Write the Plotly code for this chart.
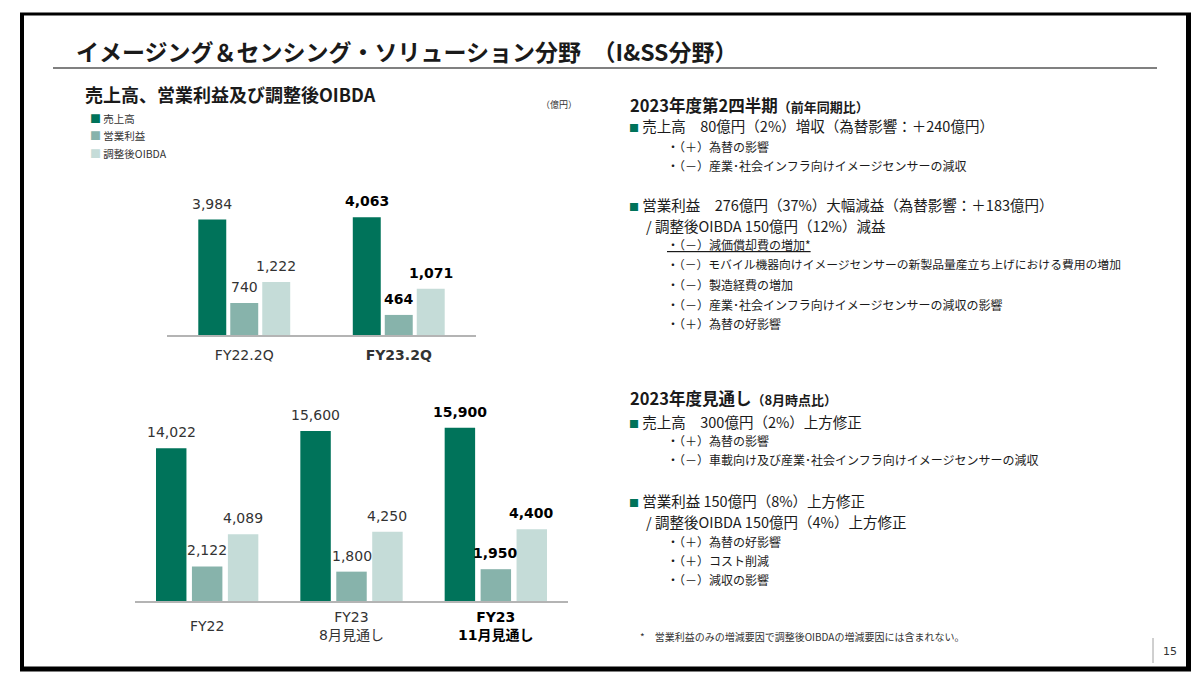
import plotly.graph_objects as go

# ---------------- data ----------------
series_names = ["売上高", "営業利益", "調整後OIBDA"]
series_colors = ["#00735A", "#87B3AB", "#C5DCD8"]

q_categories = ["FY22.2Q", "FY23.2Q"]
q_tick_labels = ["FY22.2Q", "<b>FY23.2Q</b>"]
q_bold = [False, True]
q_sales = [3984, 4063]
q_op_income = [740, 464]
q_oibda = [1222, 1071]

y_categories = ["FY22", "FY23 8月見通し", "FY23 11月見通し"]
y_tick_labels = ["FY22", "FY23<br>8月見通し", "<b>FY23<br>11月見通し</b>"]
y_bold = [False, False, True]
y_sales = [14022, 15600, 15900]
y_op_income = [2122, 1800, 1950]
y_oibda = [4089, 4250, 4400]

W, H = 1200, 675
def px(x):
    return x / W
def py(y):
    return 1 - y / H

LABEL_FONT = "DejaVu Sans, Noto Sans CJK JP, sans-serif"
JP_FONT = "Noto Sans CJK JP, sans-serif"
TXT = "#1A1A1A"

fig = go.Figure()
annotations = []

def add_chart(cats, series, bold, xa, ya_sales, ya_other, slot, bw):
    for k, (vals, name, col) in enumerate(zip(series, series_names, series_colors)):
        xs = [i + (k - 1) * slot for i in range(len(cats))]
        ya = ya_sales if k == 0 else ya_other
        fig.add_trace(go.Bar(
            x=xs, y=vals, width=bw, name=name, marker=dict(color=col, line=dict(width=0)),
            xaxis=xa, yaxis=ya, showlegend=False, hovertext=cats,
        ))
        for x, v, b in zip(xs, vals, bold):
            t = f"{v:,}"
            annotations.append(dict(
                x=x, y=v, xref=xa, yref=ya, text=f"<b>{t}</b>" if b else t,
                showarrow=False, yanchor="middle", xanchor="center", yshift=16,
                font=dict(family=LABEL_FONT, size=14, color="#000000" if b else "#333333"),
            ))

add_chart(q_categories, [q_sales, q_op_income, q_oibda], q_bold, "x", "y", "y2", 0.207, 0.181)
add_chart(y_categories, [y_sales, y_op_income, y_oibda], y_bold, "x3", "y3", "y4", 0.249, 0.211)

# bottom chart category labels (centered blocks)
for i, (lab, b) in enumerate(zip(y_tick_labels, y_bold)):
    annotations.append(dict(
        x=i, y=py(618), xref="x3", yref="paper", text=lab, showarrow=False,
        xanchor="center", yanchor="middle",
        font=dict(family=LABEL_FONT, size=14, color="#000000" if b else "#333333"),
    ))

# ---------------- texts ----------------
def txt(x, y, text, size, bold=False, color=TXT, family=JP_FONT):
    annotations.append(dict(
        x=px(x), y=py(y), xref="paper", yref="paper", text=f"<b>{text}</b>" if bold else text,
        showarrow=False, xanchor="left", yanchor="middle", align="left",
        font=dict(family=family, size=size, color=color),
    ))

txt(66, 43, "イメージング＆センシング・ソリューション分野　（I&SS分野）", 23, bold=True)
txt(75, 86, "売上高、営業利益及び調整後OIBDA", 18, color="#1A1A1A", bold=True)
txt(531, 96, "（億円）", 9, color="#333333")

legend_y = [110, 127, 145]
for name, col, yy in zip(series_names, series_colors, legend_y):
    txt(80, yy, f"<span style='color:{col};font-size:11px'>■</span> {name}", 10.5, color="#333333")

SQ = "<span style='color:#00735A;font-size:10px'>■</span> "
right_lines = [
    (620, 97, "2023年度第2四半期<span style='font-size:13px'>（前年同期比）</span>", 16.5, True),
    (619, 118, SQ + "売上高　80億円（2%）増収（為替影響：＋240億円）", 14.5, False),
    (657, 138, "・（＋）為替の影響", 12, False),
    (657, 157, "・（－）産業･社会インフラ向けイメージセンサーの減収", 12, False),
    (619, 196, SQ + "営業利益　276億円（37%）大幅減益（為替影響：＋183億円）", 14.5, False),
    (636, 217, "/ 調整後OIBDA 150億円（12%）減益", 14.5, False),
    (657, 236, "<u>・（－）減価償却費の増加*</u>", 12, False),
    (657, 256, "・（－）モバイル機器向けイメージセンサーの新製品量産立ち上げにおける費用の増加", 11.8, False),
    (657, 276, "・（－）製造経費の増加", 12, False),
    (657, 296, "・（－）産業･社会インフラ向けイメージセンサーの減収の影響", 12, False),
    (657, 315, "・（＋）為替の好影響", 12, False),
    (620, 390, "2023年度見通し<span style='font-size:13px'>（8月時点比）</span>", 16.5, True),
    (619, 413, SQ + "売上高　300億円（2%）上方修正", 14.5, False),
    (657, 432, "・（＋）為替の影響", 12, False),
    (657, 452, "・（－）車載向け及び産業･社会インフラ向けイメージセンサーの減収", 12, False),
    (619, 492, SQ + "営業利益 150億円（8%）上方修正", 14.5, False),
    (636, 513, "/ 調整後OIBDA 150億円（4%）上方修正", 14.5, False),
    (657, 533, "・（＋）為替の好影響", 12, False),
    (657, 552, "・（＋）コスト削減", 12, False),
    (657, 571, "・（－）減収の影響", 12, False),
]
for x, y, t, s, b in right_lines:
    txt(x, y, t, s, bold=b)

txt(630, 628, "*　営業利益のみの増減要因で調整後OIBDAの増減要因には含まれない。", 10, color="#333333")
txt(1153, 643, "15", 11, color="#333333", family=LABEL_FONT)

# ---------------- shapes ----------------
shapes = [
    dict(type="line", xref="paper", yref="paper", x0=px(45), x1=px(1149), y0=py(60), y1=py(60),
         line=dict(color="#808080", width=2)),
    dict(type="line", xref="paper", yref="paper", x0=px(1145), x1=px(1145), y0=py(630), y1=py(655),
         line=dict(color="#A0A0A0", width=1)),
    # frame
    dict(type="line", xref="paper", yref="paper", x0=px(12), x1=px(1183), y0=py(6), y1=py(6),
         line=dict(color="#000000", width=3)),
    dict(type="line", xref="paper", yref="paper", x0=px(14), x1=px(14), y0=py(5), y1=py(663),
         line=dict(color="#000000", width=4)),
    dict(type="line", xref="paper", yref="paper", x0=px(1180.5), x1=px(1180.5), y0=py(5), y1=py(663),
         line=dict(color="#000000", width=5)),
    dict(type="line", xref="paper", yref="paper", x0=px(12), x1=px(1183), y0=py(661), y1=py(661),
         line=dict(color="#000000", width=5)),
]

axis_line = dict(showline=True, linecolor="#B4B4B4", linewidth=1.5, ticks="", showgrid=False,
                 zeroline=False, fixedrange=True)

fig.update_layout(
    width=W, height=H, margin=dict(l=0, r=0, t=0, b=0),
    paper_bgcolor="white", plot_bgcolor="rgba(0,0,0,0)",
    barmode="overlay", showlegend=False,
    xaxis=dict(domain=[px(159), px(468)], range=[-0.5, 1.5], anchor="y",
               tickmode="array", tickvals=list(range(len(q_categories))), ticktext=q_tick_labels,
               ticklabelstandoff=6,
               tickfont=dict(family=LABEL_FONT, size=14, color="#333333"), **axis_line),
    yaxis=dict(domain=[py(327), py(180)], range=[0, 5071], visible=False, fixedrange=True),
    yaxis2=dict(overlaying="y", range=[0, 3396], visible=False, fixedrange=True, anchor="x"),
    xaxis3=dict(domain=[px(127), px(560)], range=[-0.5, 2.5], anchor="y3",
                tickmode="array", tickvals=list(range(len(y_categories))), ticktext=y_tick_labels,
                showticklabels=False, **axis_line),
    yaxis3=dict(domain=[py(593), py(400)], range=[0, 17717], visible=False, fixedrange=True, anchor="x3"),
    yaxis4=dict(overlaying="y3", range=[0, 11831], visible=False, fixedrange=True, anchor="x3"),
    annotations=annotations,
    shapes=shapes,
)

fig.write_html("out.html")
